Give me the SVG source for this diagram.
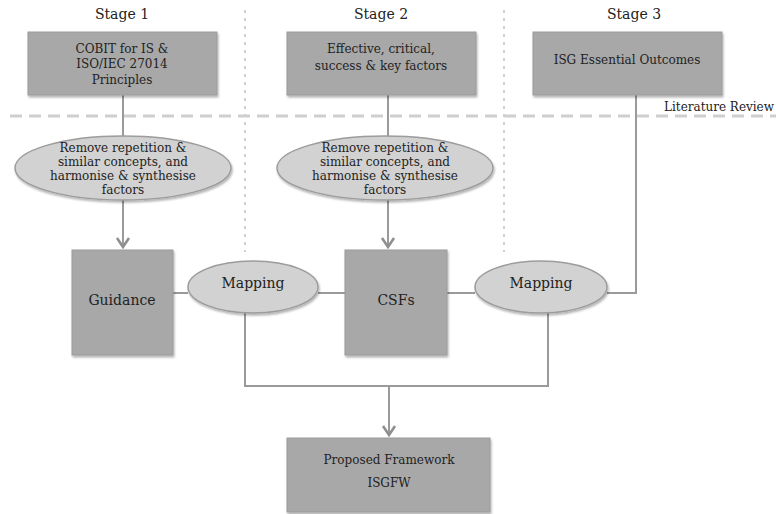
<svg xmlns="http://www.w3.org/2000/svg" width="776" height="514" viewBox="0 0 776 514">
  <defs>
    <filter id="shadow" x="-10%" y="-10%" width="120%" height="130%">
      <feDropShadow dx="1" dy="2" stdDeviation="1.2" flood-color="#000" flood-opacity="0.3"/>
    </filter>
    <marker id="arrow" viewBox="-8 -11 16 13" refX="0" refY="0" markerWidth="16" markerHeight="13" markerUnits="userSpaceOnUse" orient="0">
      <path d="M-6,-9 L0,0 L6,-9" fill="none" stroke="#8f8f8f" stroke-width="2.6" stroke-linejoin="miter"/>
    </marker>
  </defs>
  <style>
    .t { fill: #222; text-anchor: middle; font-family: "DejaVu Serif", "Liberation Serif", serif; }
    .stage { font-size: 14px; }
    .lbl { font-size: 12px; }
    .big { font-size: 14px; }
    .box { fill: #a8a8a8; stroke: #9a9a9a; stroke-width: 1; filter: url(#shadow); }
    .oval { fill: #d2d2d2; stroke: #9c9c9c; stroke-width: 1.5; filter: url(#shadow); }
    .link { fill: none; stroke: #9a9a9a; stroke-width: 2; }
    .dash { fill: none; stroke: #cfcfcf; stroke-width: 3; stroke-dasharray: 12 7; }
    .dot { fill: none; stroke: #d0d0d0; stroke-width: 2; stroke-dasharray: 3 5; }
  </style>
  <rect width="776" height="514" fill="#fff"/>

  <!-- stage separators -->
  <g id="separators">
    <line class="dot" x1="245" y1="10" x2="245" y2="252"/>
    <line class="dot" x1="504" y1="10" x2="504" y2="252"/>
    <line class="dash" x1="10" y1="116" x2="776" y2="116"/>
  </g>

  <!-- stage headings -->
  <g id="headings">
    <text class="t stage" x="122" y="19">Stage 1</text>
    <text class="t stage" x="381" y="19">Stage 2</text>
    <text class="t stage" x="634" y="19">Stage 3</text>
    <text class="t lbl" x="719" y="111">Literature Review</text>
  </g>

  <!-- connectors -->
  <g id="connectors">
    <line class="link" x1="123" y1="95" x2="123" y2="137"/>
    <line class="link" x1="388" y1="95" x2="388" y2="137"/>
    <line class="link" x1="123" y1="200" x2="123" y2="247" marker-end="url(#arrow)"/>
    <line class="link" x1="388" y1="200" x2="388" y2="247" marker-end="url(#arrow)"/>
    <line class="link" x1="173" y1="293" x2="188" y2="293"/>
    <line class="link" x1="318" y1="293" x2="345" y2="293"/>
    <line class="link" x1="447" y1="293" x2="475" y2="293"/>
    <polyline class="link" points="607,293 636,293 636,95"/>
    <polyline class="link" points="245,313 245,386 548,386 548,313"/>
    <line class="link" x1="389" y1="386" x2="389" y2="435" marker-end="url(#arrow)"/>
  </g>

  <g id="cobit">
    <rect class="box" x="28" y="32" width="189" height="63"/>
    <text class="t lbl" x="122" y="53">COBIT for IS &amp;</text>
    <text class="t lbl" x="122" y="68">ISO/IEC 27014</text>
    <text class="t lbl" x="122" y="84">Principles</text>
  </g>

  <g id="factors">
    <rect class="box" x="287" y="32" width="189" height="63"/>
    <text class="t lbl" x="381" y="53">Effective, critical,</text>
    <text class="t lbl" x="381" y="70">success &amp; key factors</text>
  </g>

  <g id="outcomes">
    <rect class="box" x="533" y="32" width="189" height="63"/>
    <text class="t lbl" x="627" y="64">ISG Essential Outcomes</text>
  </g>

  <g id="harmonise1">
    <ellipse class="oval" cx="123" cy="168" rx="108" ry="32"/>
    <text class="t lbl" x="123" y="152">Remove repetition &amp;</text>
    <text class="t lbl" x="123" y="166">similar concepts, and</text>
    <text class="t lbl" x="123" y="180">harmonise &amp; synthesise</text>
    <text class="t lbl" x="123" y="194">factors</text>
  </g>

  <g id="harmonise2">
    <ellipse class="oval" cx="385" cy="168" rx="108" ry="32"/>
    <text class="t lbl" x="385" y="152">Remove repetition &amp;</text>
    <text class="t lbl" x="385" y="166">similar concepts, and</text>
    <text class="t lbl" x="385" y="180">harmonise &amp; synthesise</text>
    <text class="t lbl" x="385" y="194">factors</text>
  </g>

  <g id="guidance">
    <rect class="box" x="72" y="250" width="101" height="105"/>
    <text class="t big" x="122" y="305">Guidance</text>
  </g>

  <g id="mapping1">
    <ellipse class="oval" cx="253" cy="287" rx="65" ry="26"/>
    <text class="t big" x="253" y="288">Mapping</text>
  </g>

  <g id="csfs">
    <rect class="box" x="345" y="250" width="102" height="105"/>
    <text class="t big" x="396" y="305">CSFs</text>
  </g>

  <g id="mapping2">
    <ellipse class="oval" cx="541" cy="287" rx="66" ry="26"/>
    <text class="t big" x="541" y="288">Mapping</text>
  </g>

  <g id="framework">
    <rect class="box" x="287" y="438" width="203" height="74"/>
    <text class="t lbl" x="389" y="464">Proposed Framework</text>
    <text class="t lbl" x="389" y="487">ISGFW</text>
  </g>
</svg>
